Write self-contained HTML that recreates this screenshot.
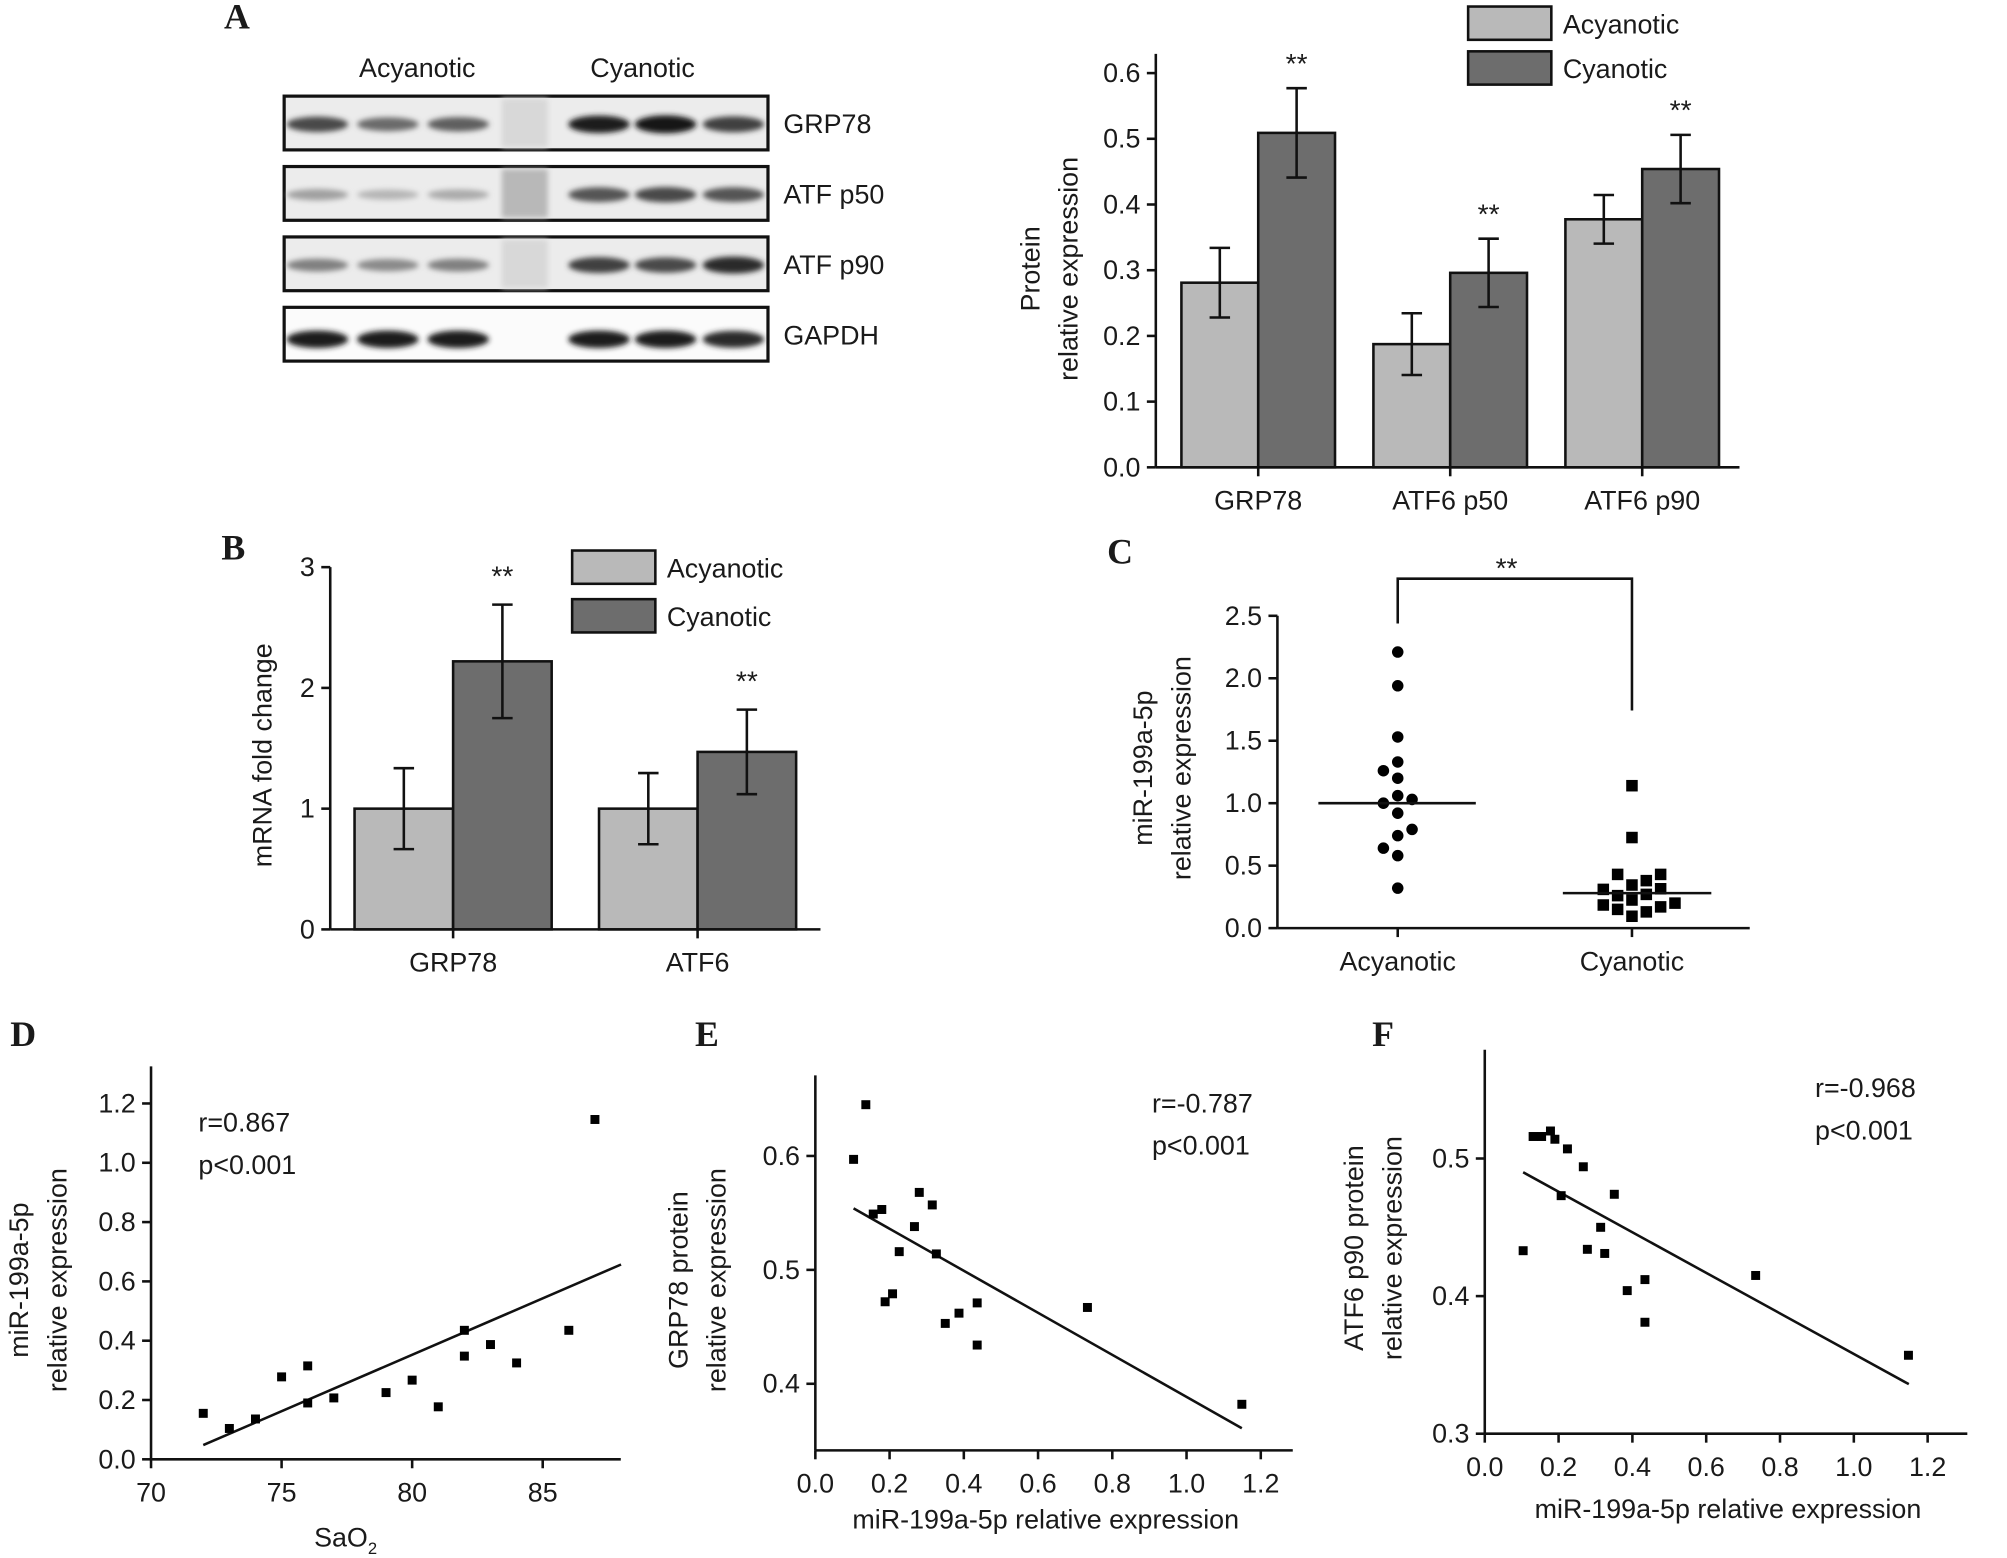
<!DOCTYPE html>
<html><head><meta charset="utf-8"><style>
html,body{margin:0;padding:0;background:#fff}
svg{display:block}
text{font-family:"Liberation Sans",Arial,sans-serif;fill:#1a1a1a}
.lt{font-family:"Liberation Serif",serif;font-weight:bold;font-size:28px}
</style></head><body>
<svg id="fig" xmlns="http://www.w3.org/2000/svg" width="2007" height="1558" viewBox="0 0 1568 1217">
<defs><filter id="bl" x="-20%" y="-50%" width="140%" height="200%"><feGaussianBlur stdDeviation="2"/></filter></defs>
<rect width="1568" height="1217" fill="#fff"/>
<text class="lt" x="175" y="22">A</text>
<text class="lt" x="173" y="437">B</text>
<text class="lt" x="865" y="440">C</text>
<text class="lt" x="8" y="817">D</text>
<text class="lt" x="543" y="817">E</text>
<text class="lt" x="1072" y="817">F</text>
<g id="blot"></g>
<g id="pa"></g>
<g id="pb"></g>
<g id="pc"></g>
<g id="pd"></g>
<g id="pe"></g>
<g id="pf"></g>
</svg>
<script>
// ---------- data ----------
const blotRows = ["GRP78","ATF p50","ATF p90","GAPDH"];
const blotIntensity = [[0.75,0.6,0.65,0.95,1.0,0.8],[0.35,0.25,0.3,0.7,0.75,0.7],[0.5,0.45,0.5,0.8,0.75,0.9],[0.95,0.95,0.95,0.95,0.95,0.9]];

const aCats = ["GRP78","ATF6 p50","ATF6 p90"];
const aAcy = [0.281,0.1875,0.3775];
const aAcyErr = [0.053,0.047,0.037];
const aCya = [0.509,0.296,0.454];
const aCyaErr = [0.068,0.052,0.052];
const aTicks = [0.0,0.1,0.2,0.3,0.4,0.5,0.6];

const bCats = ["GRP78","ATF6"];
const bAcy = [1.0,1.0];
const bAcyErr = [0.335,0.295];
const bCya = [2.22,1.47];
const bCyaErr = [0.47,0.35];
const bTicks = [0,1,2,3];

const cAcyVals = [2.21,1.94,1.53,1.33,1.26,1.20,1.06,1.00,1.03,0.92,0.79,0.74,0.64,0.58,0.32];
const cAcyJit = [0,0,0,0,-1,0,0,-1,1,0,1,0,-1,0,0];
const cCyaVals = [1.14,0.725,0.43,0.43,0.38,0.345,0.31,0.315,0.26,0.27,0.225,0.185,0.2,0.15,0.17,0.13,0.095];
const cCyaJit = [0,0,-1,2,1,0,-2,2,-1,1,0,-2,3,-1,2,1,0];
const cMedians = [1.0,0.28];
const cTicks = [0.0,0.5,1.0,1.5,2.0,2.5];

const dX = [72,73,74,75,76,76,77,79,80,81,82,82,83,84,86,87];
const dY = [0.155,0.104,0.136,0.278,0.315,0.19,0.207,0.225,0.267,0.177,0.435,0.348,0.387,0.325,0.435,1.146];
const dFit = [[72,0.048],[88,0.657]];
const dXTicks = [70,75,80,85];
const dYTicks = [0.0,0.2,0.4,0.6,0.8,1.0,1.2];

const eX = [0.103,0.136,0.156,0.179,0.188,0.208,0.226,0.267,0.28,0.315,0.326,0.35,0.387,0.436,0.436,0.733,1.149];
const eY = [0.597,0.645,0.549,0.553,0.472,0.479,0.516,0.538,0.568,0.557,0.514,0.453,0.462,0.471,0.434,0.467,0.382];
const eFit = [[0.103,0.554],[1.149,0.361]];
const xTicks12 = [0.0,0.2,0.4,0.6,0.8,1.0,1.2];
const eYTicks = [0.4,0.5,0.6];

const fX = [0.104,0.131,0.154,0.178,0.19,0.207,0.224,0.267,0.278,0.314,0.325,0.351,0.386,0.434,0.434,0.734,1.148];
const fY = [0.433,0.516,0.516,0.52,0.514,0.473,0.507,0.494,0.434,0.45,0.431,0.474,0.404,0.412,0.381,0.415,0.357];
const fFit = [[0.104,0.49],[1.149,0.336]];
const fYTicks = [0.3,0.4,0.5];

// ---------- helpers ----------
const NS="http://www.w3.org/2000/svg";
function mk(parent,tag,attrs,txt){const e=document.createElementNS(NS,tag);for(const k in attrs)e.setAttribute(k,attrs[k]);if(txt!==undefined)e.textContent=txt;parent.appendChild(e);return e;}
const LIGHT="#b9b9b9",DARK="#6d6d6d",SW=2;
function fmt(v,d){return v.toFixed(d);}
function yAxis(g,x,y0,y1,sy,ticks,dec,name){
  const l=mk(g,'line',{x1:x,y1:y0,x2:x,y2:y1,stroke:'#111','stroke-width':SW});
  
  
  ticks.forEach(t=>{mk(g,'line',{x1:x-7,y1:sy(t),x2:x,y2:sy(t),stroke:'#111','stroke-width':SW});
    const tx=mk(g,'text',{x:x-12,y:sy(t)+7,'text-anchor':'end','font-size':21},fmt(t,dec));
    
    });
}
function xAxis(g,y,x0,x1,sx,ticks,dec,name,lab){
  const l=mk(g,'line',{x1:x0,y1:y,x2:x1,y2:y,stroke:'#111','stroke-width':SW});
  
  
  ticks.forEach((t,i)=>{mk(g,'line',{x1:sx(t),y1:y,x2:sx(t),y2:y+7,stroke:'#111','stroke-width':SW});
    const tx=mk(g,'text',{x:sx(t),y:y+33,'text-anchor':'middle','font-size':21},lab?lab[i]:fmt(t,dec));
    
    });
}
function yTitle(g,x,cy,lines,name){
  lines.forEach((s,i)=>{const t=mk(g,'text',{x:0,y:0,'text-anchor':'middle','font-size':21,transform:`translate(${x+i*30},${cy}) rotate(-90)`},s);
    
    });
}
function errBar(g,x,ytop,ybot){
  mk(g,'line',{x1:x,y1:ytop,x2:x,y2:ybot,stroke:'#111','stroke-width':SW});
  mk(g,'line',{x1:x-8,y1:ytop,x2:x+8,y2:ytop,stroke:'#111','stroke-width':SW});
  mk(g,'line',{x1:x-8,y1:ybot,x2:x+8,y2:ybot,stroke:'#111','stroke-width':SW});
}
function legend(g,x,y,gap,name){
  [["Acyanotic",LIGHT],["Cyanotic",DARK]].forEach((d,i)=>{
    const r=mk(g,'rect',{x:x,y:y+i*gap,width:65,height:26,fill:d[1],stroke:'#111','stroke-width':SW});
    
    
    const t=mk(g,'text',{x:x+74,y:y+i*gap+21,'font-size':21},d[0]);
    
    
  });
}
function stars(g,x,y,name){const t=mk(g,'text',{x:x,y:y,'text-anchor':'middle','font-size':22},'**');
  
  }

// ---------- blot ----------
(function(){
  const g=document.getElementById('blot');
  const lanes=[248,303,358,468,520,573];
  const tops=[75,130,185,240];
  mk(g,'text',{x:326,y:60,'text-anchor':'middle','font-size':21},'Acyanotic');
  mk(g,'text',{x:502,y:60,'text-anchor':'middle','font-size':21},'Cyanotic');
  blotRows.forEach((r,ri)=>{
    const y=tops[ri];
    const box=mk(g,'rect',{x:222,y:y,width:378,height:42,fill:ri==3?'#fbfbfb':'#ececec',stroke:'#111','stroke-width':2.5});
    
    
    if(ri<3) mk(g,'rect',{x:392,y:y+2,width:36,height:38,fill:ri==1?'#b8b8b8':'#d8d8d8',filter:'url(#bl)'});
    lanes.forEach((lx,li)=>{
      const v=blotIntensity[ri][li];
      const c=Math.round(235-v*215);
      mk(g,'ellipse',{cx:lx,cy:y+22+(ri==3?3:0),rx:24,ry:3+v*4,fill:`rgb(${c},${c},${c})`,filter:'url(#bl)'});
    });
    const t=mk(g,'text',{x:612,y:y+29,'font-size':21},r);
    
    
  });
})();

// ---------- panel A ----------
(function(){
  const g=document.getElementById('pa');
  const X0=903,Y0=365,Y1=57;const sy=v=>Y0-(Y0-Y1)*v/0.6;
  const cx=[983,1133,1283],bw=60;
  aCats.forEach((c,i)=>{
    const r1=mk(g,'rect',{x:cx[i]-bw,y:sy(aAcy[i]),width:bw,height:Y0-sy(aAcy[i]),fill:LIGHT,stroke:'#111','stroke-width':SW});
    
    
    const r2=mk(g,'rect',{x:cx[i],y:sy(aCya[i]),width:bw,height:Y0-sy(aCya[i]),fill:DARK,stroke:'#111','stroke-width':SW});
    
    
    errBar(g,cx[i]-bw/2,sy(aAcy[i]+aAcyErr[i]),sy(aAcy[i]-aAcyErr[i]));
    errBar(g,cx[i]+bw/2,sy(aCya[i]+aCyaErr[i]),sy(aCya[i]-aCyaErr[i]));
    stars(g,cx[i]+bw/2,sy(aCya[i]+aCyaErr[i])-12,'a-'+i);
  });
  yAxis(g,X0,Y0,Y1-15,sy,aTicks,1,'a');
  xAxis(g,Y0,X0,1359,i=>cx[i],[0,1,2],0,'a',aCats);
  yTitle(g,812,210,["Protein","relative expression"],'a');
  legend(g,1147,5,35,'a');
})();

// ---------- panel B ----------
(function(){
  const g=document.getElementById('pb');
  const X0=258,Y0=726,Y1=443;const sy=v=>Y0-(Y0-Y1)*v/3;
  const cx=[354,545],bw=77;
  bCats.forEach((c,i)=>{
    const r1=mk(g,'rect',{x:cx[i]-bw,y:sy(bAcy[i]),width:bw,height:Y0-sy(bAcy[i]),fill:LIGHT,stroke:'#111','stroke-width':SW});
    
    
    const r2=mk(g,'rect',{x:cx[i],y:sy(bCya[i]),width:bw,height:Y0-sy(bCya[i]),fill:DARK,stroke:'#111','stroke-width':SW});
    
    
    errBar(g,cx[i]-bw/2,sy(bAcy[i]+bAcyErr[i]),sy(bAcy[i]-bAcyErr[i]));
    errBar(g,cx[i]+bw/2,sy(bCya[i]+bCyaErr[i]),sy(bCya[i]-bCyaErr[i]));
    stars(g,cx[i]+bw/2,sy(bCya[i]+bCyaErr[i])-15,'b-'+i);
  });
  yAxis(g,X0,Y0,Y1,sy,bTicks,0,'b');
  xAxis(g,Y0,X0,641,i=>cx[i],[0,1],0,'b',bCats);
  yTitle(g,212,590,["mRNA fold change"],'b');
  legend(g,447,430,38,'b');
})();

// ---------- panel C ----------
(function(){
  const g=document.getElementById('pc');
  const X0=998,Y0=725,Y1=481;const sy=v=>Y0-(Y0-Y1)*v/2.5;
  const ca=1092,cc=1275,jw=11.2;
  yAxis(g,X0,Y0,Y1,sy,cTicks,1,'c');
  xAxis(g,Y0,X0,1367,i=>[ca,cc][i],[0,1],0,'c',["Acyanotic","Cyanotic"]);
  cAcyVals.forEach((v,i)=>{const c=mk(g,'circle',{cx:ca+cAcyJit[i]*jw,cy:sy(v),r:4.5,fill:'#000'});
    
    });
  cCyaVals.forEach((v,i)=>{const c=mk(g,'rect',{x:cc+cCyaJit[i]*jw-4.5,y:sy(v)-4.5,width:9,height:9,fill:'#000'});
    
    });
  [[1030,1153],[1221,1337]].forEach((s,i)=>{const l=mk(g,'line',{x1:s[0],y1:sy(cMedians[i]),x2:s[1],y2:sy(cMedians[i]),stroke:'#111','stroke-width':SW});
    
    });
  const b=mk(g,'polyline',{points:`${ca},487 ${ca},452 ${cc},452 ${cc},555`,fill:'none',stroke:'#111','stroke-width':SW});
  
  
  stars(g,1177,451,'c');
  yTitle(g,900,600,["miR-199a-5p","relative expression"],'c');
})();

// ---------- scatter helper ----------
function scatter(id,xs,ys,fit,xd,yd,px,py,xt,yt,xdec,ydec,axEnd,axTop,rText,axY,ytl,ytx,yty,rtx,rty){
  const g=document.getElementById(id);
  const sx=v=>px[0]+(px[1]-px[0])*(v-xd[0])/(xd[1]-xd[0]);
  const sy=v=>py[0]+(py[1]-py[0])*(v-yd[0])/(yd[1]-yd[0]);
  yAxis(g,px[0],axY,axTop,sy,yt,ydec,id);
  xAxis(g,axY,px[0],axEnd,sx,xt,xdec,id);
  const f=mk(g,'line',{x1:sx(fit[0][0]),y1:sy(fit[0][1]),x2:sx(fit[1][0]),y2:sy(fit[1][1]),stroke:'#111','stroke-width':SW});
  
  
  xs.forEach((x,i)=>{const r=mk(g,'rect',{x:sx(x)-3.5,y:sy(ys[i])-3.5,width:7,height:7,fill:'#000'});
    
    });
  const t1=mk(g,'text',{x:rtx,y:rty,'font-size':21},rText);
  
  
  const t2=mk(g,'text',{x:rtx,y:rty+33,'font-size':21},'p<0.001');
  
  
  yTitle(g,ytx,yty,ytl,id);
  return {g,sx,sy};
}
(function(){
  const r=scatter('pd',dX,dY,dFit,[70,85],[0,1.2],[118,424],[1140,862],dXTicks,dYTicks,0,1,485,833,'r=0.867',1140,["miR-199a-5p","relative expression"],22,1000,155,884);
  const t=mk(r.g,'text',{x:270,y:1208,'text-anchor':'middle','font-size':21});
  
  
  t.appendChild(document.createTextNode('SaO'));
  mk(t,'tspan',{'font-size':13,dy:6},'2');
})();
(function(){
  const r=scatter('pe',eX,eY,eFit,[0,1.2],[0.4,0.6],[637,985],[1081,903],xTicks12,eYTicks,1,1,1010,840,'r=-0.787',1133,["GRP78 protein","relative expression"],537,1000,900,869);
  const t=mk(r.g,'text',{x:817,y:1194,'text-anchor':'middle','font-size':21},'miR-199a-5p relative expression');
  
  
})();
(function(){
  const r=scatter('pf',fX,fY,fFit,[0,1.2],[0.3,0.5],[1160,1506],[1120,905],xTicks12,fYTicks,1,1,1537,820,'r=-0.968',1120,["ATF6 p90 protein","relative expression"],1065,975,1418,857);
  const t=mk(r.g,'text',{x:1350,y:1186,'text-anchor':'middle','font-size':21},'miR-199a-5p relative expression');
  
  
})();
</script>
</body></html>
